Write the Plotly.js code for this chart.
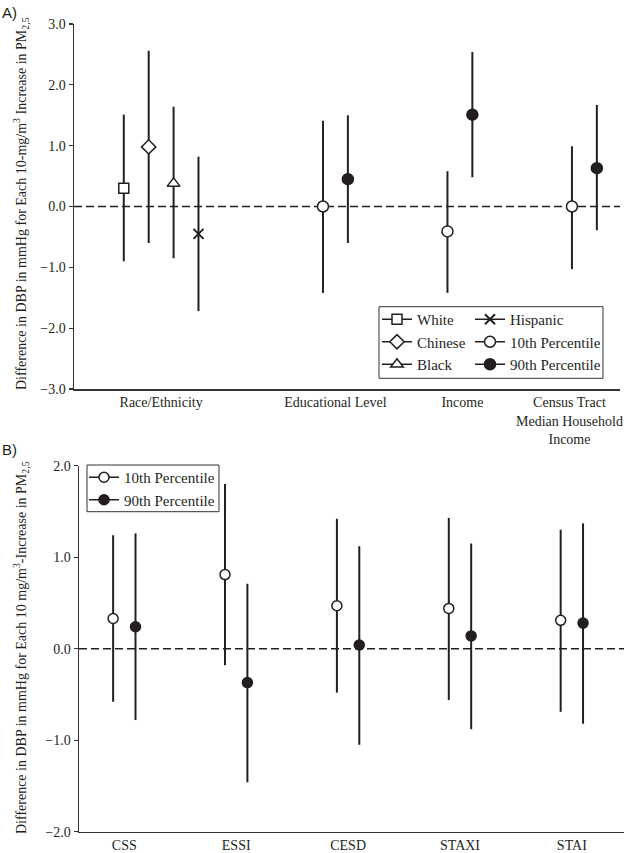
<!DOCTYPE html>
<html>
<head>
<meta charset="utf-8">
<script src="https://cdn.plot.ly/plotly-3.0.1.min.js"></script>
<style>
  html, body { margin: 0; padding: 0; background: #fff; }
  #chart { width: 628px; height: 853px; }
</style>
</head>
<body>
<div id="chart"></div>
<script>
// ---------- Panel A data ----------
const topCategories = ['Race/Ethnicity', 'Educational Level', 'Income', 'Census Tract<br>Median Household<br>Income'];
const raceNames = ['White', 'Chinese', 'Black', 'Hispanic'];
const raceEst   = [0.30, 0.98, 0.38, -0.45];
const raceUpper = [1.51, 2.56, 1.64, 0.82];
const raceLower = [-0.90, -0.60, -0.85, -1.72];

const ses10Est   = [0.00, -0.41, 0.00];
const ses10Upper = [1.41, 0.58, 0.99];
const ses10Lower = [-1.42, -1.42, -1.03];
const ses90Est   = [0.45, 1.51, 0.63];
const ses90Upper = [1.50, 2.54, 1.67];
const ses90Lower = [-0.60, 0.48, -0.39];

// ---------- Panel B data ----------
const psyCategories = ['CSS', 'ESSI', 'CESD', 'STAXI', 'STAI'];
const psy10Est   = [0.33, 0.81, 0.47, 0.44, 0.31];
const psy10Upper = [1.24, 1.80, 1.42, 1.43, 1.30];
const psy10Lower = [-0.58, -0.18, -0.48, -0.56, -0.69];
const psy90Est   = [0.24, -0.37, 0.04, 0.14, 0.28];
const psy90Upper = [1.26, 0.71, 1.12, 1.15, 1.37];
const psy90Lower = [-0.78, -1.46, -1.05, -0.88, -0.82];

const seriesNames = ['10th Percentile', '90th Percentile'];
const raceSymbols = ['square', 'diamond', 'triangle-up', 'x-thin'];

// ---------- layout helpers (slot positions) ----------
const ink = '#231f20';
const serif = 'Liberation Serif, Times New Roman, serif';
const topGroupSlot = [2, 10, 15, 20];   // first slot of each group on panel A
const topTickPos = [3.5, 10.5, 15.6, 19.9];
const pairOffset = 0.1;                 // panel B offset of the two percentiles

function isolate(arr) {           // insert gaps so points are never joined
  const out = [];
  arr.forEach((v, i) => { if (i) out.push(null); out.push(v); });
  return out;
}
function errUp(est, up) { return est.map((v, i) => up[i] - v); }
function errDn(est, lo) { return est.map((v, i) => v - lo[i]); }

function makeTrace(xs, est, up, lo, name, symbol, filled, xaxis, yaxis, legend, size) {
  const isX = symbol === 'x-thin';
  return {
    type: 'scatter', mode: 'lines+markers', connectgaps: false,
    x: isolate(xs), y: isolate(est), name: name,
    xaxis: xaxis, yaxis: yaxis, legend: legend,
    line: { color: ink, width: 1.5 },
    marker: {
      symbol: symbol, size: size,
      color: isX ? ink : (filled ? ink : '#ffffff'),
      line: { color: ink, width: isX ? 2 : 1.5 }
    },
    error_y: {
      type: 'data', symmetric: false,
      array: isolate(errUp(est, up)), arrayminus: isolate(errDn(est, lo)),
      color: ink, thickness: 2, width: 0
    },
    hoverinfo: 'skip'
  };
}

const traces = [];
// Race / ethnicity
raceNames.forEach((nm, i) => {
  const leg = i < 3 ? 'legend' : 'legend2';
  const sz = raceSymbols[i] === 'x-thin' ? 10 : (raceSymbols[i] === 'square' ? 10 : 11);
  traces.push(makeTrace([topGroupSlot[0] + i], [raceEst[i]], [raceUpper[i]], [raceLower[i]],
    nm, raceSymbols[i], false, 'x', 'y', leg, sz));
});
// SES percentiles
const sesX10 = ses10Est.map((_, g) => topGroupSlot[g + 1]);
const sesX90 = ses90Est.map((_, g) => topGroupSlot[g + 1] + 1);
traces.push(makeTrace(sesX10, ses10Est, ses10Upper, ses10Lower, seriesNames[0], 'circle', false, 'x', 'y', 'legend2', 11));
traces.push(makeTrace(sesX90, ses90Est, ses90Upper, ses90Lower, seriesNames[1], 'circle', true, 'x', 'y', 'legend2', 11));
// Panel B
const psyX10 = psyCategories.map((_, g) => g - pairOffset);
const psyX90 = psyCategories.map((_, g) => g + pairOffset);
traces.push(makeTrace(psyX10, psy10Est, psy10Upper, psy10Lower, seriesNames[0], 'circle', false, 'x2', 'y2', 'legend3', 10));
traces.push(makeTrace(psyX90, psy90Est, psy90Upper, psy90Lower, seriesNames[1], 'circle', true, 'x2', 'y2', 'legend3', 10));

const W = 628, H = 853;
const px = v => v / W, py = v => 1 - v / H;

const yTickFont = { family: serif, size: 14, color: ink };
function yAxis(domain, range, anchor) {
  return {
    domain: domain, range: range, anchor: anchor,
    dtick: 1, tick0: 0, tickformat: '.1f',
    showgrid: false, zeroline: false,
    showline: true, linecolor: '#333', linewidth: 1.5,
    ticks: 'outside', ticklen: 4, tickcolor: '#333', tickwidth: 1.2,
    tickfont: yTickFont, automargin: false, fixedrange: true
  };
}
function xAxis(domain, range, anchor, tickvals, ticktext) {
  return {
    domain: domain, range: range, anchor: anchor,
    tickmode: 'array', tickvals: tickvals, ticktext: ticktext,
    showgrid: false, zeroline: false,
    showline: true, linecolor: '#333', linewidth: 1.5,
    ticks: '', tickfont: { family: serif, size: 14, color: ink },
    automargin: false, fixedrange: true
  };
}

const legendFont = { family: serif, size: 15, color: ink };

const layout = {
  width: W, height: H,
  margin: { l: 0, r: 0, t: 0, b: 0 },
  paper_bgcolor: '#fff', plot_bgcolor: '#fff',
  showlegend: true,
  xaxis: xAxis([px(74), px(620)], [0, 21.93], 'y', topTickPos, topCategories),
  yaxis: yAxis([py(389), py(24)], [-3, 3], 'x'),
  xaxis2: xAxis([px(79), px(624)], [-0.405, 4.466], 'y2', psyCategories.map((_, i) => i), psyCategories),
  yaxis2: yAxis([py(831.7), py(465.7)], [-2, 2], 'x2'),
  legend: { x: px(377), y: py(303), xanchor: 'left', yanchor: 'top', bgcolor: 'rgba(0,0,0,0)',
            font: legendFont, tracegroupgap: 0, borderwidth: 0 },
  legend2: { x: px(470), y: py(303), xanchor: 'left', yanchor: 'top', bgcolor: 'rgba(0,0,0,0)',
             font: legendFont, tracegroupgap: 0, borderwidth: 0 },
  legend3: { x: px(84), y: py(461), xanchor: 'left', yanchor: 'top', bgcolor: 'rgba(0,0,0,0)',
             font: legendFont, tracegroupgap: 0, borderwidth: 0 },
  shapes: [
    { type: 'line', xref: 'x domain', yref: 'y', x0: 0, x1: 1, y0: 0, y1: 0, layer: 'below',
      line: { color: ink, width: 1.5, dash: '8px,4px' } },
    { type: 'line', xref: 'x2 domain', yref: 'y2', x0: 0, x1: 1, y0: 0, y1: 0, layer: 'below',
      line: { color: ink, width: 1.5, dash: '8px,4px' } },
    { type: 'rect', xref: 'paper', yref: 'paper', x0: px(379), x1: px(603), y0: py(378.3), y1: py(306.7),
      layer: 'above', line: { color: '#333', width: 1 }, fillcolor: 'rgba(0,0,0,0)' },
    { type: 'rect', xref: 'paper', yref: 'paper', x0: px(87), x1: px(219), y0: py(511.7), y1: py(465),
      layer: 'above', line: { color: '#333', width: 1 }, fillcolor: 'rgba(0,0,0,0)' }
  ],
  annotations: [
    { text: 'A)', xref: 'paper', yref: 'paper', x: 0, y: py(12), xanchor: 'left', yanchor: 'middle',
      showarrow: false, font: { family: 'Liberation Sans, Arial, sans-serif', size: 15, color: ink } },
    { text: 'B)', xref: 'paper', yref: 'paper', x: 0, y: py(450), xanchor: 'left', yanchor: 'middle',
      showarrow: false, font: { family: 'Liberation Sans, Arial, sans-serif', size: 15, color: ink } },
    { text: 'Difference in DBP in mmHg for Each 10-mg/m<sup>3</sup> Increase in PM<sub>2,5</sub>',
      xref: 'paper', yref: 'paper', x: px(21), y: py(204), xanchor: 'center', yanchor: 'middle',
      textangle: -90, showarrow: false, font: { family: serif, size: 14, color: ink } },
    { text: 'Difference in DBP in mmHg for Each 10 mg/m<sup>3</sup>-Increase in PM<sub>2,5</sub>',
      xref: 'paper', yref: 'paper', x: px(21), y: py(648), xanchor: 'center', yanchor: 'middle',
      textangle: -90, showarrow: false, font: { family: serif, size: 14, color: ink } }
  ]
};

Plotly.newPlot('chart', traces, layout, { staticPlot: true, displayModeBar: false });
</script>
</body>
</html>
